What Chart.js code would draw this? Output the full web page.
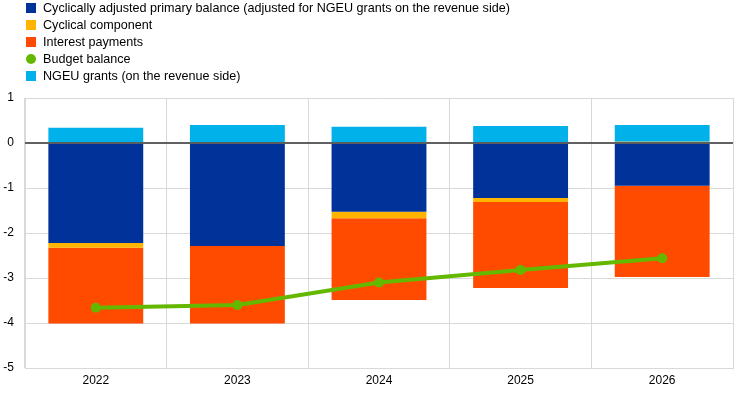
<!DOCTYPE html>
<html>
<head>
<meta charset="utf-8">
<script src="https://cdn.jsdelivr.net/npm/chart.js@4"></script>
<style>
    html, body { margin: 0; padding: 0; background: #fff; }
    #wrap { position: relative; width: 744px; height: 395px; }
    #legend {
        position: absolute; left: 26px; top: 0;
        font: 12.6px "Liberation Sans", Arial, sans-serif; color: #000;
    }
    #legend div { height: 17px; line-height: 17px; white-space: nowrap; }
    #legend span.mark {
        display: inline-block; width: 10px; height: 10px;
        margin-right: 7px; vertical-align: -1px;
    }
</style>
</head>
<body>
<div id="wrap">
    <canvas id="chart" width="744" height="395"></canvas>
    <div id="legend"></div>
</div>
<script>
const years = ['2022', '2023', '2024', '2025', '2026'];
const primaryBalance = [-2.22, -2.29, -1.53, -1.22, -0.95];
const cyclical = [-0.11, 0.00, -0.14, -0.09, 0.03];
const interest = [-1.68, -1.72, -1.82, -1.91, -2.03];
const ngeuGrants = [0.34, 0.40, 0.36, 0.38, 0.37];
const budgetBalance = [-3.66, -3.60, -3.10, -2.82, -2.56];

const colors = {
    blue: '#003299',
    yellow: '#ffb400',
    orange: '#ff4b00',
    green: '#65b800',
    lightBlue: '#00b1ea'
};

const barSet = (label, data, color) => ({
    type: 'bar',
    label: label,
    data: data,
    backgroundColor: color,
    borderWidth: 0,
    categoryPercentage: 1,
    barPercentage: 0.67,
    order: 1
});

// zero line on top of bars
const zeroLine = {
    id: 'zeroLine',
    afterDatasetsDraw(chart) {
        const y = chart.scales.y.getPixelForValue(0);
        const area = chart.chartArea;
        const ctx = chart.ctx;
        ctx.save();
        ctx.strokeStyle = '#595959';
        ctx.lineWidth = 1.5;
        ctx.beginPath();
        ctx.moveTo(area.left, y);
        ctx.lineTo(area.right, y);
        ctx.stroke();
        ctx.restore();
    },
    beforeDatasetDraw(chart, args) {
        // redraw zero line before the line series so the line stays on top
        if (chart.data.datasets[args.index].type === 'line') {
            zeroLine.afterDatasetsDraw(chart);
        }
    }
};

const ctx = document.getElementById('chart').getContext('2d');
const chart = new Chart(ctx, {
    data: {
        labels: years,
        datasets: [
            barSet('Cyclically adjusted primary balance (adjusted for NGEU grants on the revenue side)', primaryBalance, colors.blue),
            barSet('Cyclical component', cyclical, colors.yellow),
            barSet('Interest payments', interest, colors.orange),
            {
                type: 'line',
                label: 'Budget balance',
                data: budgetBalance,
                stack: 'line',
                borderColor: colors.green,
                backgroundColor: colors.green,
                borderWidth: 4,
                pointRadius: 5,
                pointHoverRadius: 5,
                pointBorderWidth: 0,
                tension: 0,
                order: 0
            },
            barSet('NGEU grants (on the revenue side)', ngeuGrants, colors.lightBlue)
        ]
    },
    options: {
        responsive: false,
        animation: false,
        layout: {
            padding: { top: 98, right: 11, bottom: 0, left: 0 }
        },
        plugins: {
            legend: { display: false },
            tooltip: { enabled: false }
        },
        scales: {
            x: {
                stacked: true,
                grid: {
                    offset: true,
                    color: '#d9d9d9',
                    drawTicks: false
                },
                border: { color: '#d9d9d9' },
                ticks: {
                    padding: 5,
                    color: '#000',
                    font: { family: 'Liberation Sans', size: 12 }
                },
                afterFit: scale => { scale.height = 27; }
            },
            y: {
                stacked: true,
                min: -5,
                max: 1,
                grid: {
                    color: '#d9d9d9',
                    drawTicks: false
                },
                border: { color: '#d9d9d9' },
                ticks: {
                    stepSize: 1,
                    padding: 11,
                    color: '#000',
                    font: { family: 'Liberation Sans', size: 12 }
                },
                afterFit: scale => { scale.width = 25; }
            }
        }
    },
    plugins: [zeroLine]
});

// legend in the original order, one item per row
const legend = document.getElementById('legend');
chart.data.datasets.forEach(ds => {
    const row = document.createElement('div');
    const mark = document.createElement('span');
    mark.className = 'mark';
    mark.style.background = ds.backgroundColor;
    if (ds.type === 'line') {
        mark.style.borderRadius = '50%';
    }
    row.appendChild(mark);
    row.appendChild(document.createTextNode(ds.label));
    legend.appendChild(row);
});
</script>
</body>
</html>
